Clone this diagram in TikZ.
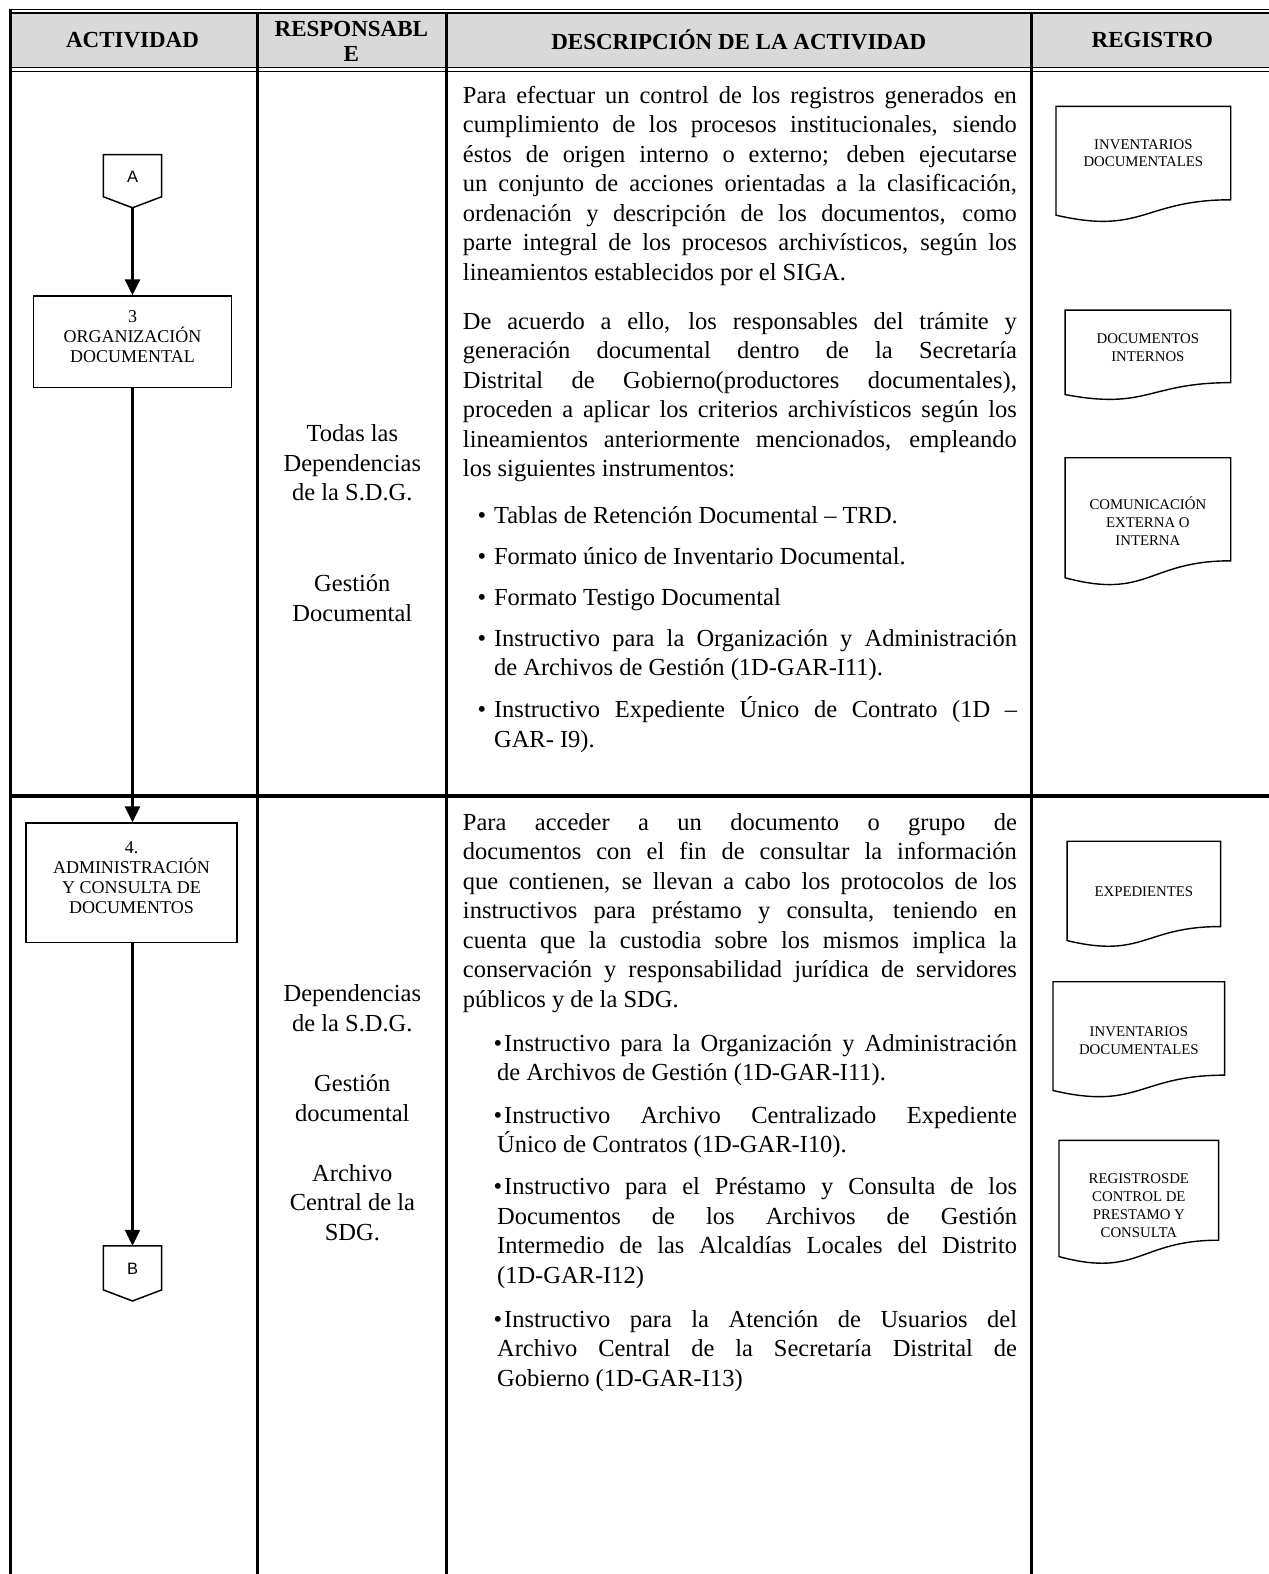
\documentclass[tikz,border=0pt]{standalone}
\usepackage{fontspec}
\setmainfont{Liberation Serif}
\newfontfamily\sansf{Liberation Sans}
\usetikzlibrary{arrows.meta}
\definecolor{hdrgray}{HTML}{D9D9D9}
\newcommand{\dfont}{\fontsize{24.5pt}{29.6pt}\selectfont}
\newcommand{\hfont}{\bfseries\fontsize{23pt}{25pt}\selectfont}
\newcommand{\bxfont}{\fontsize{18pt}{20pt}\selectfont}
\newcommand{\docfont}{\fontsize{14.8pt}{17.8pt}\selectfont}
\newcommand{\JL}[4]{\node[txt] (#1) at (#2) {\makebox[#3][s]{#4}};}
\newcommand{\NL}[3]{\node[txt] (#1) at (#2) {#3};}
\newcommand{\regdoc}[4]{%
  \draw[docl] (#1,#2) -- (#3,#2) -- (#3,{#2+0.802*#4})
    .. controls ({(#1+#3)/2},{#2+0.802*#4}) and ({(#1+#3)/2},{#2+1.107*#4}) ..
    (#1,{#2+0.934*#4}) -- cycle;}
\begin{document}
\begin{tikzpicture}[x=1.004pt,y=-1.004pt,
  tbl/.style={line width=3pt},
  dbl/.style={line width=1.4pt},
  shp/.style={line width=1.5pt, line join=miter},
  docl/.style={line width=1.4pt},
  actbox/.style={draw, line width=1.5pt, rectangle, inner sep=0pt},
  boxtxt/.style={font=\bxfont, align=center, inner sep=0pt},
  doctxt/.style={font=\docfont, align=center, inner sep=0pt},
  hdr/.style={font=\hfont, align=center, inner sep=0pt},
  txt/.style={anchor=base west, inner sep=0pt, font=\dfont},
  resp/.style={anchor=base, inner sep=0pt, font=\dfont},
  bul/.style={anchor=base, inner sep=0pt, font=\dfont},
  arr/.style={line width=2.5pt, -{Triangle[length=16pt,width=15pt]}},
  conn/.style={font=\sansf\fontsize{16.5pt}{18pt}\selectfont, inner sep=0pt}]
\useasboundingbox (0,0) rectangle (1264,1568);
\fill[white] (0,0) rectangle (1264,1568);
% ---------- table ----------
\fill[hdrgray] (10,12.5) rectangle (1264,67.5);
\draw[dbl] (10,9.5) -- (1264,9.5);
\draw[dbl] (10,12.8) -- (1264,12.8);
\draw[dbl] (10,67.5) -- (1264,67.5);
\draw[dbl] (10,71) -- (1264,71);
\draw[tbl] (10,9) -- (10,1568);
\draw[tbl] (256.5,12.8) -- (256.5,1568);
\draw[tbl] (445,12.8) -- (445,1568);
\draw[tbl] (1028,12.8) -- (1028,1568);
\draw[line width=3.5pt] (10,793) -- (1264,793);
% ---------- header ----------
\node[hdr] (hact) at (132,40) {ACTIVIDAD};
\node[hdr] (hresp) at (350,41) {RESPONSABL\\E};
\node[hdr] (hdesc) at (736,40) {DESCRIPCIÓN DE LA ACTIVIDAD};
\node[hdr] (hreg) at (1148,40) {REGISTRO};
% ---------- activity column ----------
\draw[shp] (103,154) -- (161,154) -- (161,196) -- (132,207) -- (103,196) -- cycle;
\node[conn] (A) at (132,176) {A};
\coordinate (Atip) at (132,207);
\node[actbox, minimum width=198pt, minimum height=91.4pt] (b3) at (132,340.5) {};
\node[boxtxt] (b3t) at (132,335) {3\\ORGANIZACIÓN\\DOCUMENTAL};
\node[actbox, minimum width=210.8pt, minimum height=119.5pt] (b4) at (131,879.5) {};
\node[boxtxt] (b4t) at (131,874) {4.\\ADMINISTRACIÓN\\Y CONSULTA DE\\DOCUMENTOS};
\draw[shp] (103,1241) -- (161,1241) -- (161,1285) -- (132,1296) -- (103,1285) -- cycle;
\node[conn] (B) at (132,1264) {B};
\coordinate (Btop) at (132,1241);
\draw[arr] (Atip) -- (b3.north);
\draw[arr] (b3.south) -- (b3.south |- b4.north);
\draw[arr] (b3.south |- b4.south) -- (Btop);
% ---------- responsable ----------
\node[resp] (r1) at (351,440) {Todas las};
\node[resp] (r2) at (351,470) {Dependencias};
\node[resp] (r3) at (351,499) {de la S.D.G.};
\node[resp] (r4) at (351,589) {Gestión};
\node[resp] (r5) at (351,619) {Documental};
\node[resp] (s1) at (351,998) {Dependencias};
\node[resp] (s2) at (351,1028) {de la S.D.G.};
\node[resp] (s3) at (351,1087) {Gestión};
\node[resp] (s4) at (351,1117) {documental};
\node[resp] (s5) at (351,1177) {Archivo};
\node[resp] (s6) at (351,1206) {Central de la};
\node[resp] (s7) at (351,1236) {SDG.};
% ---------- description row 1 ----------
\JL{p1}{461,103}{554pt}{Para efectuar un control de los registros generados en}
\JL{p2}{461,132.4}{554pt}{cumplimiento de los procesos institucionales, siendo}
\JL{p3}{461,161.8}{554pt}{éstos de origen interno o externo; deben ejecutarse}
\JL{p4}{461,191.2}{554pt}{un conjunto de acciones orientadas a la clasificación,}
\JL{p5}{461,220.6}{554pt}{ordenación y descripción de los documentos, como}
\JL{p6}{461,250}{554pt}{parte integral de los procesos archivísticos, según los}
\NL{p7}{461,279.4}{lineamientos establecidos por el SIGA.}
\JL{q1}{461,328}{554pt}{De acuerdo a ello, los responsables del trámite y}
\JL{q2}{461,357.4}{554pt}{generación documental dentro de la Secretaría}
\JL{q3}{461,386.8}{554pt}{Distrital de Gobierno(productores documentales),}
\JL{q4}{461,416.2}{554pt}{proceden a aplicar los criterios archivísticos según los}
\JL{q5}{461,445.6}{554pt}{lineamientos anteriormente mencionados, empleando}
\NL{q6}{461,475}{los siguientes instrumentos:}
\node[bul] (ba1) at (480,521) {•};
\NL{t1}{492,521}{Tablas de Retención Documental – TRD.}
\node[bul] (ba2) at (480,562) {•};
\NL{t2}{492,562}{Formato único de Inventario Documental.}
\node[bul] (ba3) at (480,603) {•};
\NL{t3}{492,603}{Formato Testigo Documental}
\node[bul] (ba4) at (480,644) {•};
\JL{t4}{492,644}{523pt}{Instructivo para la Organización y Administración}
\NL{t5}{492,673.4}{de Archivos de Gestión (1D-GAR-I11).}
\node[bul] (ba5) at (480,715) {•};
\JL{t6}{492,715}{523pt}{Instructivo Expediente Único de Contrato (1D –}
\NL{t7}{492,744.4}{GAR- I9).}
% ---------- description row 2 ----------
\JL{u1}{461,827}{554pt}{Para acceder a un documento o grupo de}
\JL{u2}{461,856.4}{554pt}{documentos con el fin de consultar la información}
\JL{u3}{461,885.8}{554pt}{que contienen, se llevan a cabo los protocolos de los}
\JL{u4}{461,915.2}{554pt}{instructivos para préstamo y consulta, teniendo en}
\JL{u5}{461,944.6}{554pt}{cuenta que la custodia sobre los mismos implica la}
\JL{u6}{461,974}{554pt}{conservación y responsabilidad jurídica de servidores}
\NL{u7}{461,1003.4}{públicos y de la SDG.}
\node[bul] (bb1) at (496,1047) {•};
\JL{v1}{502,1047}{513pt}{Instructivo para la Organización y Administración}
\NL{v2}{495,1076.4}{de Archivos de Gestión (1D-GAR-I11).}
\node[bul] (bb2) at (496,1119) {•};
\JL{v3}{502,1119}{513pt}{Instructivo Archivo Centralizado Expediente}
\NL{v4}{495,1148.4}{Único de Contratos (1D-GAR-I10).}
\node[bul] (bb3) at (496,1190) {•};
\JL{v5}{502,1190}{513pt}{Instructivo para el Préstamo y Consulta de los}
\JL{v6}{495,1219.4}{520pt}{Documentos de los Archivos de Gestión}
\JL{v7}{495,1248.8}{520pt}{Intermedio de las Alcaldías Locales del Distrito}
\NL{v8}{495,1278.2}{(1D-GAR-I12)}
\node[bul] (bb4) at (496,1322) {•};
\JL{v9}{502,1322}{513pt}{Instructivo para la Atención de Usuarios del}
\JL{v10}{495,1351.4}{520pt}{Archivo Central de la Secretaría Distrital de}
\NL{v11}{495,1380.8}{Gobierno (1D-GAR-I13)}
% ---------- registro ----------
\regdoc{1052}{106}{1226}{116}
\node[doctxt] (d1) at (1139,152.5) {INVENTARIOS\\DOCUMENTALES};
\regdoc{1061}{309}{1226}{90}
\node[doctxt] (d2) at (1143.5,346.5) {DOCUMENTOS\\INTERNOS};
\regdoc{1061}{456}{1226}{128}
\node[doctxt] (d3) at (1143.5,519) {COMUNICACIÓN\\EXTERNA O\\INTERNA};
\regdoc{1063}{838}{1216}{106}
\node[doctxt] (d4) at (1139.5,888) {EXPEDIENTES};
\regdoc{1049}{978}{1220}{116}
\node[doctxt] (d5) at (1134.5,1037) {INVENTARIOS\\DOCUMENTALES};
\regdoc{1055}{1136}{1214}{124}
\node[doctxt] (d6) at (1134.5,1201) {REGISTROSDE\\CONTROL DE\\PRESTAMO Y\\CONSULTA};
\end{tikzpicture}
\end{document}
